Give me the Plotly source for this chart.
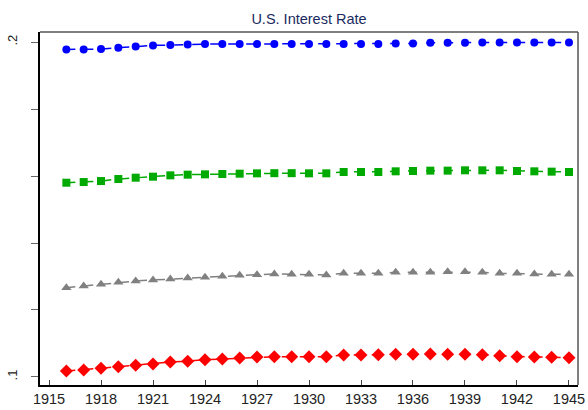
import plotly.graph_objects as go

years = list(range(1916, 1946))

blue = [0.1956, 0.1956, 0.1958, 0.1966, 0.1974, 0.1980, 0.1982, 0.1986, 0.1988, 0.1988,
        0.1988, 0.1988, 0.1988, 0.1988, 0.1988, 0.1988, 0.1988, 0.1988, 0.1988, 0.1992,
        0.1992, 0.1996, 0.1996, 0.1996, 0.1998, 0.1998, 0.1998, 0.1998, 0.1998, 0.1998]
green = [0.1160, 0.1164, 0.1170, 0.1182, 0.1190, 0.1196, 0.1204, 0.1208, 0.1210, 0.1212,
         0.1214, 0.1216, 0.1217, 0.1217, 0.1216, 0.1216, 0.1224, 0.1224, 0.1224, 0.1228,
         0.1230, 0.1232, 0.1232, 0.1234, 0.1234, 0.1234, 0.1230, 0.1228, 0.1226, 0.1224]
gray = [0.0533, 0.0543, 0.0553, 0.0565, 0.0573, 0.0579, 0.0585, 0.0591, 0.0595, 0.0601,
        0.0607, 0.0611, 0.0615, 0.0613, 0.0613, 0.0609, 0.0619, 0.0619, 0.0619, 0.0625,
        0.0625, 0.0625, 0.0629, 0.0629, 0.0625, 0.0619, 0.0619, 0.0615, 0.0613, 0.0613]
red = [0.0036, 0.0042, 0.0052, 0.0061, 0.0070, 0.0078, 0.0090, 0.0094, 0.0103, 0.0107,
       0.0113, 0.0119, 0.0121, 0.0121, 0.0121, 0.0121, 0.0131, 0.0131, 0.0133, 0.0136,
       0.0136, 0.0137, 0.0136, 0.0136, 0.0133, 0.0127, 0.0121, 0.0119, 0.0118, 0.0115]

x_ticks = list(range(1915, 1946, 3))
y_ticks = [0.0, 0.04, 0.08, 0.12, 0.16, 0.2]
y_ticktext = [".1", "", "", "", "", ".2"]

series = [
    ("Series 1", blue, "#0000FF", "circle", 8),
    ("Series 2", green, "#00AA00", "square", 8),
    ("Series 3", gray, "#808080", "triangle-up", 9),
    ("Series 4", red, "#FF0000", "diamond", 10),
]

fig = go.Figure()
for name, vals, col, sym, sz in series:
    fig.add_trace(go.Scatter(
        x=years, y=vals, name=name, mode="lines+markers",
        line=dict(color=col, width=1.5, dash="dash"),
        marker=dict(color=col, symbol=sym, size=sz, line=dict(width=0)),
    ))

fig.update_layout(
    width=588, height=410,
    margin=dict(l=40, r=10, t=32, b=25),
    paper_bgcolor="white", plot_bgcolor="white",
    showlegend=False,
    font=dict(family="Arial, Liberation Sans, sans-serif", size=14, color="#222222"),
    title=dict(text="U.S. Interest Rate", x=0.5, xref="paper", y=0.955, yref="container",
               xanchor="center", yanchor="middle",
               font=dict(size=14.5, color="#1A2A5E")),
    xaxis=dict(range=[1914.48, 1945.52], tickvals=x_ticks, ticks="inside", ticklen=5,
               tickcolor="#444444", showgrid=False, zeroline=False, showline=True,
               linecolor="black", linewidth=1.5, automargin=False,
               tickfont=dict(size=14.5, color="#222222")),
    yaxis=dict(range=[-0.0048, 0.206], tickvals=y_ticks, ticktext=y_ticktext, ticks="outside",
               ticklen=7, tickcolor="#666666", tickangle=-90, showgrid=False, zeroline=False,
               showline=True, linecolor="black", linewidth=1.5, automargin=False,
               ticklabelstandoff=9,
               tickfont=dict(size=13, color="#222222")),
    shapes=[
        dict(type="line", xref="paper", yref="paper", x0=0, x1=1, y0=1, y1=1,
             line=dict(color="#555555", width=1.5)),
        dict(type="line", xref="paper", yref="paper", x0=1, x1=1, y0=0, y1=1,
             line=dict(color="#555555", width=1.5)),
    ],
)

fig.write_html("out.html", config={"displayModeBar": False},
               post_script="document.body.style.margin='0';document.body.style.overflow='hidden';")
